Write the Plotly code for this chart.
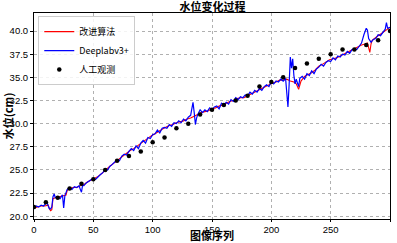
import plotly.graph_objects as go

# 改进算法 (red)
red_x = [0,3,6,9,12,13,14,15,16,18,21,24,27,28,30,33,36,39,42,45,48,51,54,57,60,63,66,69,72,75,78,81,84,87,90,93,96,99,102,105,108,111,114,117,120,123,126,129,132,135,138,141,144,147,150,153,156,159,162,165,168,171,174,177,180,183,186,189,192,195,198,201,204,207,210,213,216,219,221,223,225,228,231,234,237,240,243,246,249,252,255,258,261,264,267,270,273,276,279,281,282,283,284,285,288,291,294,297,300]
red_y = [20.9,21.0,21.1,21.1,21.2,20.8,20.6,20.7,21.9,22.0,22.1,22.2,22.3,22.8,23.0,23.1,23.1,23.3,23.4,23.7,23.9,24.1,24.3,24.6,25.0,25.3,25.6,25.9,26.2,26.5,26.9,27.1,27.3,27.6,27.8,28.1,28.4,28.7,28.9,29.2,29.4,29.6,29.8,29.9,30.1,30.2,30.3,30.5,30.6,30.8,31.0,31.2,31.3,31.4,31.6,31.7,31.9,32.0,32.2,32.4,32.5,32.7,32.8,32.8,33.0,33.2,33.4,33.6,33.8,34.0,34.2,34.4,34.5,34.7,34.7,34.8,34.6,34.5,34.3,33.7,34.6,35.1,35.3,35.5,35.8,36.2,36.4,36.7,36.9,37.0,37.1,37.3,37.5,37.7,37.9,38.1,38.3,38.5,38.6,38.7,38.2,37.7,38.6,39.0,39.3,39.6,39.9,40.2,40.4]

# Deeplabv3+ (blue)
blue_x = [0,2,4,6,8,10,11,12,13,14,15,16,17,18,20,22,24,25,26,28,30,32,34,36,38,39,40,41,42,44,46,48,50,52,54,56,58,60,62,64,66,68,70,72,74,76,78,80,82,84,86,88,90,92,94,96,98,100,102,104,106,108,110,112,114,116,118,120,122,124,126,128,130,132,133,134,135,136,137,138,140,142,144,146,148,150,152,154,156,158,160,162,164,166,168,170,172,174,176,178,180,182,184,186,188,190,192,194,196,198,200,202,204,206,208,210,212,213,214,215,216,217,218,219,220,221,222,223,224,226,228,230,232,234,236,238,240,242,244,246,248,250,252,254,256,258,260,262,264,266,268,270,272,274,276,278,280,281,282,284,286,288,290,292,294,296,297,298,300]
blue_y = [20.8,21.1,21.0,21.2,21.1,21.3,21.5,21.1,20.8,20.8,21.0,22.1,22.4,22.0,22.1,21.9,22.3,20.9,22.2,22.9,23.1,22.9,23.2,23.1,23.3,22.9,22.6,23.4,23.3,23.6,23.8,23.9,24.1,24.0,24.3,24.5,24.7,25.1,25.0,25.4,25.6,25.8,26.1,26.0,26.5,26.7,26.6,27.0,27.3,27.1,27.6,27.3,27.9,28.2,27.9,28.5,28.4,28.8,28.9,29.3,29.0,29.5,29.6,29.5,29.9,29.7,30.1,30.0,30.3,30.1,30.5,30.3,30.7,30.9,31.6,32.3,31.2,29.9,30.6,31.0,31.5,31.2,31.5,31.3,31.7,31.5,31.8,31.9,31.6,32.2,32.0,32.3,32.1,32.6,32.4,32.8,32.6,32.9,32.8,33.1,33.0,33.4,33.2,33.6,33.4,33.8,33.6,34.0,34.2,34.0,34.5,34.3,34.6,34.5,34.8,34.6,34.9,33.5,31.8,34.2,37.2,36.0,37.0,35.2,34.3,34.8,34.4,34.0,34.9,35.1,34.8,35.4,35.2,35.7,35.4,35.9,36.1,36.4,36.2,36.6,36.8,36.7,37.1,36.9,37.3,37.2,37.5,37.4,37.8,37.6,38.0,38.1,38.0,38.3,38.7,39.6,40.3,40.1,39.2,38.8,39.1,39.2,39.6,39.5,39.9,40.2,40.9,40.3,40.4]

# 人工观测 (black dots)
obs_x = [0,10,20,30,40,50,60,70,80,90,100,110,120,130,140,150,160,170,180,190,200,210,220,230,240,250,260,270,280,290,300]
obs_y = [21.0,21.5,22.0,23.0,23.5,24.0,25.0,26.0,26.5,27.0,28.0,28.5,29.5,30.0,31.0,31.5,32.0,32.5,33.0,34.0,34.5,35.0,36.0,36.5,37.0,37.5,38.0,38.0,38.5,39.0,40.0]

x_ticks = [0, 50, 100, 150, 200, 250, 300]
y_ticks = [20.0, 22.5, 25.0, 27.5, 30.0, 32.5, 35.0, 37.5, 40.0]

CJK = "Noto Sans CJK SC"
LAT = "Liberation Sans, Arial, sans-serif"

fig = go.Figure()
fig.add_trace(go.Scatter(x=red_x, y=red_y, mode="lines", name="改进算法",
                         line=dict(color="#ff0000", width=1.1)))
fig.add_trace(go.Scatter(x=blue_x, y=blue_y, mode="lines", name="Deeplabv3+",
                         line=dict(color="#0000ff", width=1.2)))
fig.add_trace(go.Scatter(x=obs_x, y=obs_y, mode="markers", name="人工观测",
                         marker=dict(color="black", size=4.5)))

axis_common = dict(showline=True, linecolor="black", linewidth=1, mirror=True,
                   ticks="outside", tickcolor="black", automargin=False,
                   showgrid=True, gridcolor="#b0b0b0", griddash="dot", gridwidth=1,
                   zeroline=False, tickfont=dict(family=LAT, size=9.5, color="black"))

fig.update_layout(
    width=397, height=243,
    margin=dict(l=34, r=7, t=13, b=24),
    paper_bgcolor="white", plot_bgcolor="white",
    title=dict(text="<b>水位变化过程</b>", x=0.535, xanchor="center",
               y=1 - 7.5 / 243, yanchor="middle", yref="container", pad=dict(t=0, b=0),
               font=dict(family=CJK, size=11, color="black")),
    xaxis=dict(range=[0, 300], tickvals=x_ticks, ticktext=[str(v) for v in x_ticks],
               ticklen=2,
               title=dict(text="<b>图像序列</b>", standoff=2,
                          font=dict(family=CJK, size=11, color="black")),
               **axis_common),
    yaxis=dict(range=[19.7, 41.95], tickvals=y_ticks, ticktext=[f"{v:.1f}" for v in y_ticks],
               ticklen=3,
               title=dict(text="<b>水位(cm)</b>", standoff=0,
                          font=dict(family=CJK, size=11, color="black")),
               **axis_common),
    legend=dict(x=0.012, y=0.985, xanchor="left", yanchor="top",
                bgcolor="rgba(255,255,255,0.85)", bordercolor="#cccccc", borderwidth=1,
                font=dict(family=CJK, size=9, color="black"),
                itemwidth=30, tracegroupgap=0),
    showlegend=True,
)

fig.write_html("out.html", config={"displayModeBar": False},
               post_script="document.body.style.margin='0';document.body.style.padding='0';")
